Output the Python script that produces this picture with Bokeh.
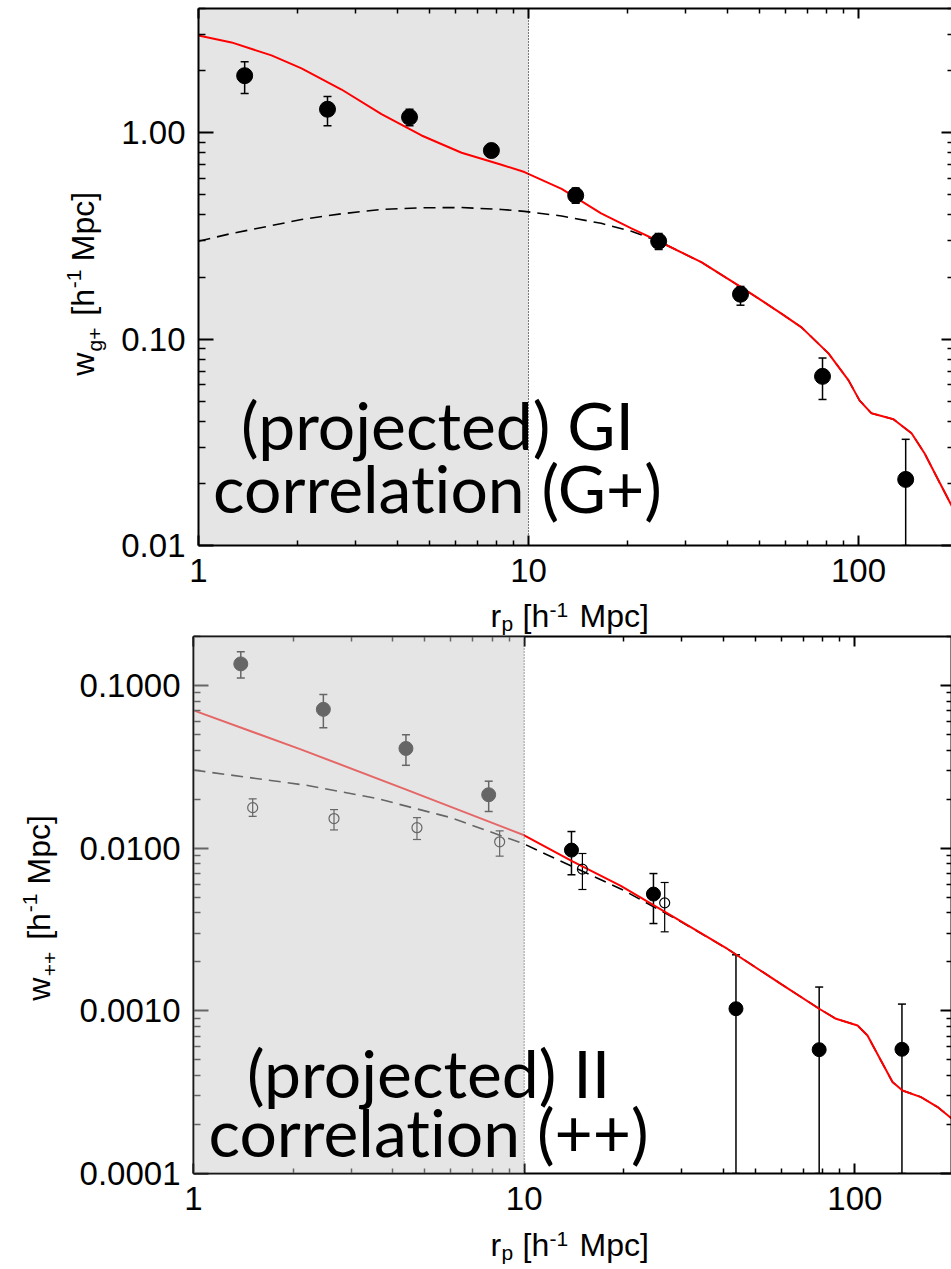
from bokeh.plotting import figure
from bokeh.models import (ColumnDataSource, Range1d, LogAxis, FixedTicker, PrintfTickFormatter,
                          CustomJSTickFormatter, BoxAnnotation, Span, Whisker, TeeHead, Label)
from bokeh.layouts import column, row
from bokeh.embed import file_html
from bokeh.resources import INLINE

# ---------------- GI (G+) correlation ----------------
gp_rp = [1.38, 2.46, 4.36, 7.72, 13.9, 24.8, 43.9, 77.8, 139.0]
gp_w = [1.89, 1.30, 1.19, 0.82, 0.497, 0.298, 0.165, 0.066, 0.0209]
gp_hi = [2.21, 1.50, 1.30, 0.87, 0.54, 0.325, 0.18, 0.081, 0.0327]
gp_lo = [1.55, 1.08, 1.08, 0.77, 0.455, 0.272, 0.146, 0.051, 0.01]

gp_model_rp = [1.0, 1.259, 1.664, 2.052, 2.713, 3.585, 4.741, 6.27, 8.28, 9.72, 12.6, 16.6,
               20.5, 24.8, 33.4, 44.2, 50.8, 58.4, 67.2, 81.1, 93.3, 100.7, 109.5, 127.6,
               144.8, 158.5, 174.7, 192.7, 200.0]
gp_model_total = [2.96, 2.74, 2.37, 2.05, 1.62, 1.23, 0.97, 0.80, 0.70, 0.645, 0.535, 0.407,
                  0.344, 0.298, 0.236, 0.178, 0.154, 0.133, 0.114, 0.0853, 0.0631, 0.0505, 0.0437,
                  0.0409, 0.035, 0.028, 0.0207, 0.0153, 0.0138]
gp_model_linear = [0.298, 0.325, 0.355, 0.380, 0.405, 0.425, 0.433, 0.434, 0.425, 0.416, 0.395,
                   0.364, 0.333, 0.298, 0.236, 0.178, 0.154, 0.133, 0.114, 0.0853, 0.0631, 0.0505,
                   0.0437, 0.0409, 0.035, 0.028, 0.0207, 0.0153, 0.0138]

# ---------------- II (++) correlation ----------------
pp_rp = [1.39, 2.47, 4.39, 7.81, 13.9, 24.6, 43.7, 78.0, 138.8]
pp_w = [0.1357, 0.0713, 0.0410, 0.0213, 0.00973, 0.00522, 0.00103, 0.000577, 0.00058]
pp_hi = [0.161, 0.0881, 0.0498, 0.0258, 0.01265, 0.00698, 0.00221, 0.0014, 0.0011]
pp_lo = [0.111, 0.0549, 0.0323, 0.0168, 0.00686, 0.00344, 0.0001, 0.0001, 0.0001]

pp_alt_rp = [1.51, 2.66, 4.74, 8.43, 15.0, 26.6]
pp_alt_w = [0.01774, 0.0152, 0.01336, 0.01094, 0.00743, 0.00461]
pp_alt_hi = [0.0201, 0.01726, 0.0154, 0.01277, 0.00927, 0.00615]
pp_alt_lo = [0.0157, 0.01294, 0.0113, 0.00893, 0.00557, 0.00306]

pp_total_rp = [1.0, 2.11, 4.4, 10.0, 14.0, 19.6, 30.0, 41.2, 59.7, 78.0, 87.7, 101.9, 109.2,
               119.9, 130.0, 139.3, 158.5, 178.0, 196.5, 200.0]
pp_model_total = [0.0703, 0.0405, 0.0229, 0.0120, 0.0083, 0.00587, 0.00352, 0.0024, 0.001466,
                  0.00103, 0.000893, 0.000813, 0.000705, 0.000495, 0.000365, 0.000324, 0.000295,
                  0.000256, 0.000217, 0.000212]
pp_linear_rp = [1.0, 2.18, 3.55, 6.0, 10.0, 14.0, 20.0, 30.0, 41.2, 59.7, 78.0, 87.7, 101.9,
                109.2, 119.9, 130.0, 139.3, 158.5, 178.0, 196.5, 200.0]
pp_model_linear = [0.0302, 0.0244, 0.0203, 0.0154, 0.0106, 0.0077, 0.0055, 0.0035, 0.0024,
                   0.001466, 0.00103, 0.000893, 0.000813, 0.000705, 0.000495, 0.000365, 0.000324,
                   0.000295, 0.000256, 0.000217, 0.000212]

x_ticks = [1, 10, 100]
gp_y_ticks = [0.01, 0.1, 1.0]
pp_y_ticks = [0.0001, 0.001, 0.01, 0.1]
shade_edge = 10.0

TICK_FONT = "Liberation Sans"
BIG_FONT = "Lato"
ZWNJ = "\u200c"  # keeps "t" and "i" as separate glyphs in Lato

# advance widths (em) of the title pieces in Liberation Sans
EM = {"w": 0.722, "g+": 1.140, "++": 1.168, "[h": 0.834, "-1": 0.889, "Mpc]": 2.167,
      "r": 0.333, "p": 0.556}
MID = 0.3465     # centre of the text box above the baseline, in em
ROT_ALONG = 32   # placement correction for the upright title pieces, px


def minor_list(decades):
    return [m * 10.0 ** k for k in decades for m in range(2, 10)]


def style_axis(ax, ticker, formatter, tick_in, minor_in, standoff, show_labels=True):
    ax.ticker = ticker
    ax.formatter = formatter
    ax.axis_line_width = 2
    ax.axis_line_color = "black"
    ax.major_tick_in = tick_in
    ax.major_tick_out = 0
    ax.minor_tick_in = minor_in
    ax.minor_tick_out = 0
    ax.major_tick_line_width = 2
    ax.minor_tick_line_width = 1.5
    ax.major_tick_line_color = "black"
    ax.minor_tick_line_color = "black"
    ax.major_label_standoff = standoff
    if show_labels:
        ax.major_label_text_font = TICK_FONT
        ax.major_label_text_font_size = "33px"
        ax.major_label_text_color = "black"
    else:
        ax.major_label_text_font_size = "0px"


def make_panel(x_end, y_lo, y_hi, y_ticks, y_fmt, left, top, bottom, frame_w):
    p = figure(frame_width=frame_w, frame_height=537, x_axis_type="log", y_axis_type="log",
               x_range=Range1d(1, x_end), y_range=Range1d(y_lo, y_hi),
               output_backend="svg", toolbar_location=None,
               min_border_left=left, min_border_right=0, min_border_top=top,
               min_border_bottom=bottom)
    p.grid.visible = False
    p.outline_line_color = None
    p.background_fill_color = "white"
    p.border_fill_color = "white"

    xt = FixedTicker(ticks=x_ticks, minor_ticks=minor_list(range(0, 3)))
    yt = FixedTicker(ticks=y_ticks, minor_ticks=minor_list(range(-5, 1)))
    style_axis(p.xaxis[0], xt, PrintfTickFormatter(format="%d"), 10, 5, 13)
    style_axis(p.yaxis[0], yt, PrintfTickFormatter(format=y_fmt), 15, 7, 13)

    top_ax = LogAxis()
    style_axis(top_ax, xt, CustomJSTickFormatter(code="return ''"), 10, 5, 0, show_labels=False)
    p.add_layout(top_ax, "above")
    right_ax = LogAxis()
    style_axis(right_ax, yt, CustomJSTickFormatter(code="return ''"), 11, 5, 0, show_labels=False)
    p.add_layout(right_ax, "right")
    return p


def text_strip(width, height):
    """Blank strip in pixel coordinates (origin bottom-left) carrying an axis title."""
    s = figure(width=width, height=height, x_range=Range1d(0, width), y_range=Range1d(0, height),
               output_backend="svg", toolbar_location=None, min_border=0,
               x_axis_location=None, y_axis_location=None)
    s.grid.visible = False
    s.outline_line_color = None
    s.background_fill_color = "white"
    s.border_fill_color = "white"
    return s


def piece(s, cx, cy, txt, size, angle=0.0):
    # each piece is anchored at the centre of its own text box
    s.add_layout(Label(x=cx, y=cy, text=txt, angle=angle, angle_units="deg",
                       text_align="center", text_baseline="middle", text_font=TICK_FONT,
                       text_font_size=f"{size}px", text_color="black"))


def y_title(s, strip_top, strip_h, base_x, start_y, sub):
    """Vertical title 'w_sub [h^-1 Mpc]'; base_x is the baseline column and start_y the
    page row where the text starts (it reads upwards)."""
    F, f = 32, 21
    parts = [("w", F, 0, 0), (sub, f, 27, 7), ("[h", F, 67, 0), ("-1", f, 97, -13),
             ("Mpc]", F, 130, 0)]
    for txt, size, along, shift in parts:
        length = EM[txt] * size
        page_y = start_y - along - length / 2 + ROT_ALONG
        page_x = base_x + shift - MID * size
        piece(s, page_x, strip_h - (page_y - strip_top), txt, size, 90)


def x_title(s, strip_top, strip_h, start_x, base_y):
    """Horizontal title 'r_p [h^-1 Mpc]'; base_y is the page row of the baseline."""
    F, f = 32, 21
    parts = [("r", F, 0, 0), ("p", f, 11, 3), ("[h", F, 32, 0), ("-1", f, 59, -10),
             ("Mpc]", F, 89, 0)]
    for txt, size, dx, dy in parts:
        cx = start_x + dx + EM[txt] * size / 2
        page_y = base_y + dy - MID * size
        piece(s, cx, strip_h - (page_y - strip_top), txt, size)


# ---------------- top panel ----------------
p1 = make_panel(192.7, 0.01, 4.0, gp_y_ticks, "%.2f", 79, 8, 52, 754)
p1.add_layout(BoxAnnotation(left=1, right=shade_edge, fill_color="#e5e5e5", fill_alpha=1.0,
                            line_color=None, level="underlay"))

gp_src = ColumnDataSource(dict(x=gp_rp, y=gp_w, hi=gp_hi, lo=gp_lo))
p1.line(gp_model_rp, gp_model_linear, line_color="black", line_width=1.6, line_dash="12 7")
p1.line(gp_model_rp, gp_model_total, line_color="red", line_width=2)
p1.add_layout(Whisker(base="x", upper="hi", lower="lo", source=gp_src, dimension="height",
                      line_width=1.5, line_color="black",
                      upper_head=TeeHead(size=8, line_width=1.5, line_color="black"),
                      lower_head=TeeHead(size=8, line_width=1.5, line_color="black")))
p1.scatter("x", "y", source=gp_src, size=16, color="black")
p1.add_layout(Span(location=shade_edge, dimension="height", line_color="black",
                   line_width=1, line_dash="1 2"))
for ty, txt in [(0.03846, "(projected) GI"), (0.01905, f"correlat{ZWNJ}ion (G+)")]:
    p1.add_layout(Label(x=5.30, y=ty, text=txt, text_align="center",
                        text_baseline="middle", text_font=BIG_FONT,
                        text_font_size="66px", text_color="black", level="overlay"))

# ---------------- bottom panel ----------------
p2 = make_panel(196.0, 0.0001, 0.2, pp_y_ticks, "%.4f", 123, 1, 52, 758)

pp_src = ColumnDataSource(dict(x=pp_rp, y=pp_w, hi=pp_hi, lo=pp_lo))
pp_alt_src = ColumnDataSource(dict(x=pp_alt_rp, y=pp_alt_w, hi=pp_alt_hi, lo=pp_alt_lo))
p2.line(pp_linear_rp, pp_model_linear, line_color="black", line_width=1.6, line_dash="12 7")
p2.line(pp_total_rp, pp_model_total, line_color="red", line_width=2)
p2.add_layout(Whisker(base="x", upper="hi", lower="lo", source=pp_src, dimension="height",
                      line_width=1.5, line_color="black",
                      upper_head=TeeHead(size=8, line_width=1.5, line_color="black"),
                      lower_head=TeeHead(size=8, line_width=1.5, line_color="black")))
p2.add_layout(Whisker(base="x", upper="hi", lower="lo", source=pp_alt_src, dimension="height",
                      line_width=1.2, line_color="black",
                      upper_head=TeeHead(size=8, line_width=1.2, line_color="black"),
                      lower_head=TeeHead(size=8, line_width=1.2, line_color="black")))
p2.scatter("x", "y", source=pp_src, size=14, color="black")
p2.scatter("x", "y", source=pp_alt_src, size=10, fill_alpha=0, line_color="black",
           line_width=1.2)
p2.add_layout(BoxAnnotation(left=1, right=shade_edge, fill_color="#cbcbcb", fill_alpha=0.5,
                            line_color=None, level="overlay"))
p2.add_layout(Span(location=shade_edge, dimension="height", line_color="#444444",
                   line_width=1, line_dash="1 2", level="overlay"))
for ty, txt in [(4.2e-4, "(projected) II"), (1.80e-4, f"correlat{ZWNJ}ion (++)")]:
    p2.add_layout(Label(x=5.14, y=ty, text=txt, text_align="center",
                        text_baseline="middle", text_font=BIG_FONT,
                        text_font_size="66px", text_color="black", level="overlay"))

# ---------------- axis title strips ----------------
TOP_H = 8 + 537 + 52          # height of the upper panel
XT1_H = 635 - TOP_H           # strip below it
BOT_H = 1 + 537 + 52          # height of the lower panel
XT2_H = 1269 - 635 - BOT_H

yt1 = text_strip(118, TOP_H)
y_title(yt1, 0, TOP_H, 94, 375, "g+")
xt1 = text_strip(951, XT1_H)
x_title(xt1, TOP_H, XT1_H, 490, 627)

yt2 = text_strip(70, BOT_H)
y_title(yt2, 635, BOT_H, 50, 1002, "++")
xt2 = text_strip(951, XT2_H)
x_title(xt2, 635 + BOT_H, XT2_H, 490, 1256)

layout = column(row(yt1, p1, spacing=0), xt1, row(yt2, p2, spacing=0), xt2, spacing=0)
open("out.html", "w").write(file_html(layout, INLINE))
